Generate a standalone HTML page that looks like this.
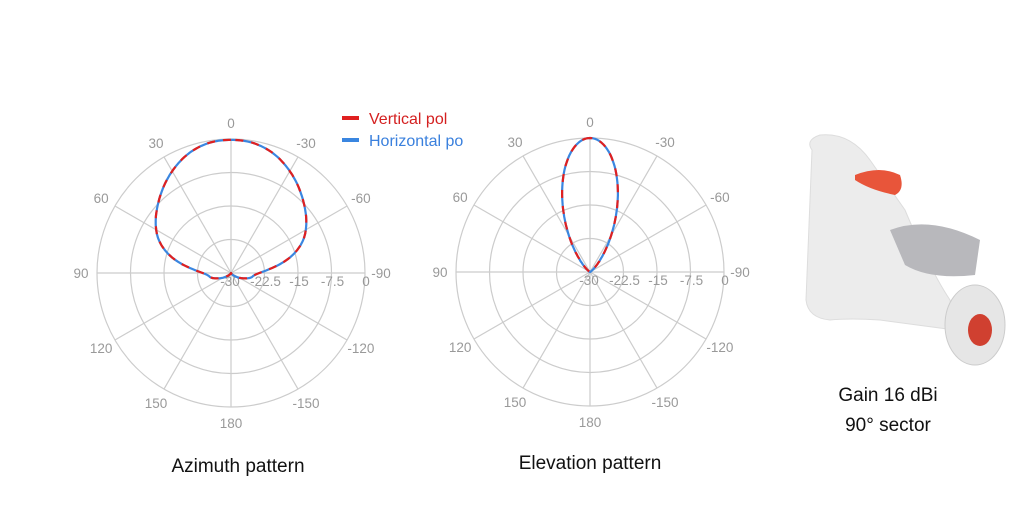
<!DOCTYPE html>
<html><head><meta charset="utf-8"><style>
body{margin:0;background:#fff;width:1013px;height:523px;overflow:hidden;font-family:"Liberation Sans",sans-serif}
svg{position:absolute;left:0;top:0}
</style></head><body>
<svg id="s" width="1013" height="523" xmlns="http://www.w3.org/2000/svg">
<g font-family="Liberation Sans" font-size="16">
<line x1="342" y1="118" x2="359" y2="118" stroke="#e02020" stroke-width="4"/>
<text x="369" y="124" fill="#d42020">Vertical pol</text>
<line x1="342" y1="140" x2="359" y2="140" stroke="#3a86e0" stroke-width="4"/>
<text x="369" y="146" fill="#3a80dd">Horizontal po</text>
</g>
<g font-family="Liberation Sans" font-size="19" fill="#111" text-anchor="middle">
<text x="238" y="472">Azimuth pattern</text>
<text x="590" y="469">Elevation pattern</text>
<text x="888" y="401">Gain 16 dBi</text>
<text x="888" y="431">90° sector</text>
</g>
<g id="img">
<path d="M812 150 Q805 140 820 135 Q850 132 870 160 L905 210 Q930 270 950 300 L955 330 L880 320 Q850 318 830 320 Q808 318 806 300 Z" fill="#ececec" stroke="#ddd"/>
<path d="M890 230 Q930 215 980 240 L975 275 Q930 280 905 265 Z" fill="#b8b8bc"/>
<path d="M855 175 Q880 165 900 175 Q905 190 895 195 Q870 190 855 180 Z" fill="#e8553a"/>
<ellipse cx="975" cy="325" rx="30" ry="40" fill="#e6e6e6" stroke="#ccc"/>
<ellipse cx="980" cy="330" rx="12" ry="16" fill="#d04030"/>
</g>
</svg>
<script>
var s=document.getElementById('s'),NS='http://www.w3.org/2000/svg';
function el(t,a,txt){var e=document.createElementNS(NS,t);for(var k in a)e.setAttribute(k,a[k]);if(txt!=null)e.textContent=txt;s.insertBefore(e,document.getElementById('img'));return e;}
var R=134;
function chart(cx,cy,rf,last){
 for(var k=1;k<=4;k++)el('circle',{cx:cx,cy:cy,r:R*k/4,fill:'none',stroke:'#ccc','stroke-width':1.2});
 for(var a=0;a<360;a+=30){var t=a*Math.PI/180;el('line',{x1:cx,y1:cy,x2:cx-R*Math.sin(t),y2:cy-R*Math.cos(t),stroke:'#ccc','stroke-width':1.2});}
 var labs=[[0,'0'],[30,'30'],[60,'60'],[90,'90'],[120,'120'],[150,'150'],[180,'180'],[-30,'-30'],[-60,'-60'],[-90,last],[-120,'-120'],[-150,'-150']];
 labs.forEach(function(l){var t=l[0]*Math.PI/180,rr=150;var x=cx-rr*Math.sin(t),y=cy-rr*Math.cos(t)+5;
  el('text',{x:x,y:y,'text-anchor':'middle','font-family':'Liberation Sans','font-size':13.5,fill:'#999'},l[1]);});
 var rl=['-30','-22.5','-15','-7.5','0'];
 rl.forEach(function(t,i){el('text',{x:cx+R*i/4-(i==0?1:-1),y:cy+13,'text-anchor':'middle','font-family':'Liberation Sans','font-size':13.5,fill:'#999'},t);});
 var d='';for(var a=0;a<=360;a+=1){var r=rf(a>180?a-360:a);var t=a*Math.PI/180;d+=(a?'L':'M')+(cx-r*Math.sin(t)).toFixed(1)+' '+(cy-r*Math.cos(t)).toFixed(1);}
 el('path',{d:d,fill:'none',stroke:'#3a86e0','stroke-width':2.2,'stroke-linejoin':'round'});
 el('path',{d:d,fill:'none',stroke:'#e02020','stroke-width':2.2,'stroke-dasharray':'8 8','stroke-linejoin':'round'});
}
var az=[[0,134],[15,131],[30,118],[45,102],[60,87],[70,74],[80,50],[90,22],[100,24],[110,15],[130,4],[150,0],[180,0]];
function azl(a){a=Math.abs(a);for(var i=1;i<az.length;i++)if(a<=az[i][0]){var p=az[i-1],q=az[i],f=(a-p[0])/(q[0]-p[0]);return p[1]+f*(q[1]-p[1]);}return 0;}
function azf(a){var s=0,n=0;for(var k=-8;k<=8;k++){s+=azl(a+k);n++;}return s/n;}
function elf(a){a=Math.abs(a);if(a>=90)return 0;return R*Math.pow(Math.cos(a*Math.PI/180),8);}
chart(231,273,azf,'-90');
chart(590,272,elf,'-90');
</script>
</body></html>
